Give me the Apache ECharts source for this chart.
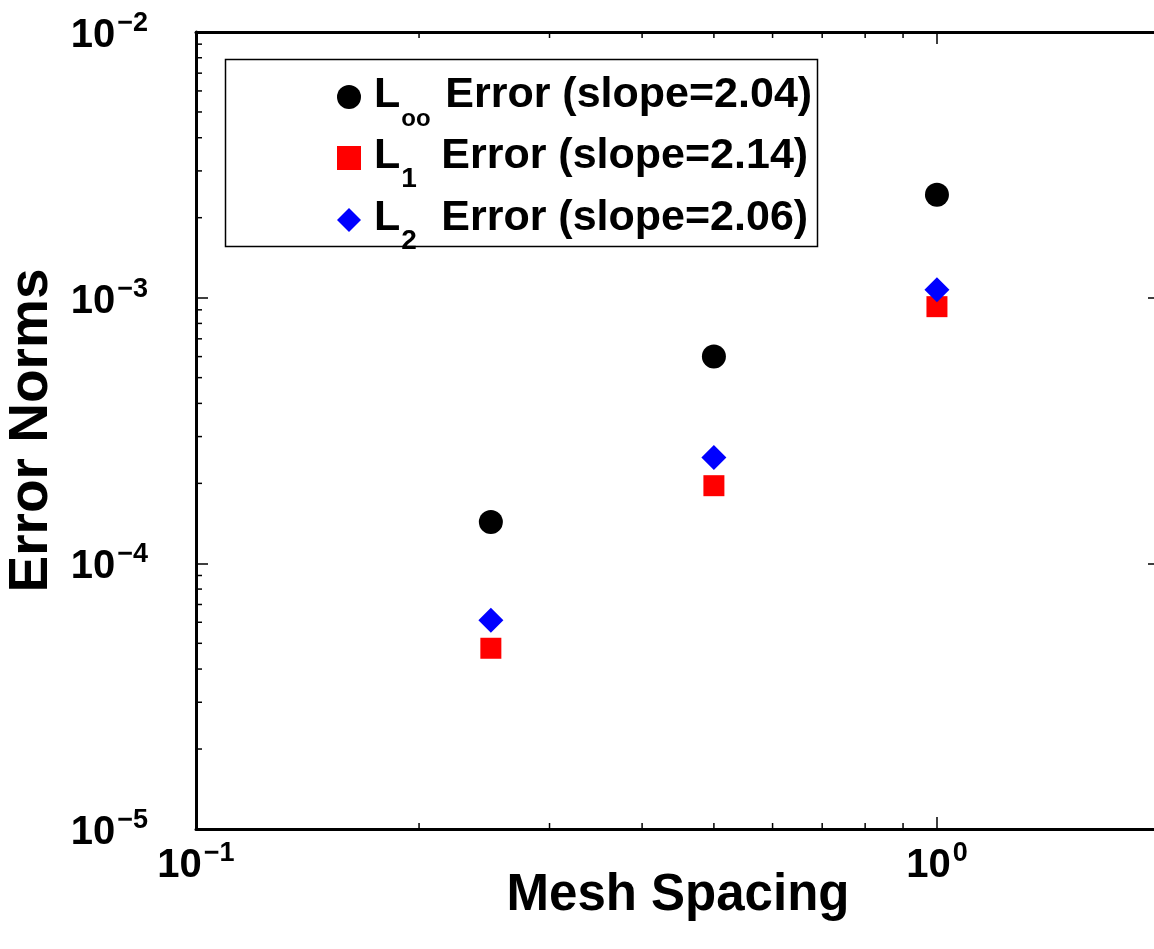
<!DOCTYPE html>
<html><head><meta charset="utf-8">
<script src="https://cdn.jsdelivr.net/npm/echarts@6/dist/echarts.min.js"></script>
<style>html,body{margin:0;padding:0;background:#fff}#c{width:1154px;height:949px}</style>
</head><body><div id="c"></div>
<script>
// ---- data ----
const meshSpacing = [0.25, 0.5, 1.0];
const linfError = [1.43e-4, 6.0e-4, 2.44e-3];
const l1Error = [4.79e-5, 1.96e-4, 9.25e-4];
const l2Error = [6.1e-5, 2.50e-4, 1.07e-3];
const normSubscripts = ['oo', '1', '2'];
const slopes = ['2.04', '2.14', '2.06'];
const seriesNames = ['L∞ Error (slope=2.04)', 'L1 Error (slope=2.14)', 'L2 Error (slope=2.06)'];
const xTickExponents = [-1, 0];
const yTickExponents = [-5, -4, -3, -2];
const xMinorTicks = [0.2, 0.3, 0.4, 0.5, 0.6, 0.7, 0.8, 0.9];
const yMinorTicks = [2e-5, 3e-5, 4e-5, 5e-5, 6e-5, 7e-5, 8e-5, 9e-5,
                     2e-4, 3e-4, 4e-4, 5e-4, 6e-4, 7e-4, 8e-4, 9e-4,
                     2e-3, 3e-3, 4e-3, 5e-3, 6e-3, 7e-3, 8e-3, 9e-3];
const xRange = [0.1, 2];
const yRange = [1e-5, 1e-2];

const FONT = 'Liberation Sans';
const chart = echarts.init(document.getElementById('c'), null, {renderer: 'canvas'});

function powLabel(exps) {
  return function (v) {
    const e = Math.log10(v);
    const r = Math.round(e);
    if (Math.abs(e - r) > 1e-6 || exps.indexOf(r) < 0) return '';
    const s = r < 0 ? '\u2212' + (-r) : String(r);
    return '{b|10}{sup|' + s + '}';
  };
}
const labelRich = {
  b: {fontFamily: FONT, fontWeight: 'bold', fontSize: 40, color: '#000', lineHeight: 44, verticalAlign: 'top', padding: [6, 0, 6, 0]},
  sup: {fontFamily: FONT, fontWeight: 'bold', fontSize: 27, color: '#000', lineHeight: 27, verticalAlign: 'top', padding: [0, 0, 0, 2]}
};
const lineStyle = {color: '#000', width: 3};
const tickStyle = {color: '#000', width: 1.5};

function minorTickSeries(axis, values) {
  return {
    type: 'custom', silent: true, z: 5, clip: false,
    data: values.map(v => axis === 'x' ? [v, 1e-4] : [0.5, v]),
    renderItem: function (params, api) {
      const cs = params.coordSys;
      const p = api.coord([api.value(0), api.value(1)]);
      const st = {stroke: '#000', lineWidth: 1.5};
      if (axis === 'x') {
        return {type: 'group', children: [
          {type: 'line', shape: {x1: p[0], y1: cs.y + cs.height, x2: p[0], y2: cs.y + cs.height - 6}, style: st},
          {type: 'line', shape: {x1: p[0], y1: cs.y, x2: p[0], y2: cs.y + 6}, style: st}
        ]};
      }
      return {type: 'group', children: [
        {type: 'line', shape: {x1: cs.x, y1: p[1], x2: cs.x + 6, y2: p[1]}, style: st},
        {type: 'line', shape: {x1: cs.x + cs.width, y1: p[1], x2: cs.x + cs.width - 6, y2: p[1]}, style: st}
      ]};
    }
  };
}

const textBase = {fontFamily: FONT, fontWeight: 'bold', color: '#000'};
const option = {
  backgroundColor: '#fff',
  animation: false,
  grid: {left: 196, top: 32, right: -6, bottom: 120, containLabel: false, outerBoundsMode: 'none'},
  xAxis: [{
    type: 'log', logBase: 10, min: xRange[0], max: xRange[1],
    position: 'bottom',
    name: 'Mesh Spacing', nameLocation: 'middle', nameGap: 41, nameMoveOverlap: false,
    nameTextStyle: Object.assign({fontSize: 51}, textBase),
    axisLine: {show: true, lineStyle: lineStyle},
    axisTick: {show: true, inside: true, length: 12, lineStyle: tickStyle},
    axisLabel: {formatter: powLabel(xTickExponents), margin: 11, rich: labelRich, showMinLabel: true, showMaxLabel: true},
    splitLine: {show: false}, minorTick: {show: false}
  }, {
    type: 'log', logBase: 10, min: xRange[0], max: xRange[1],
    position: 'top',
    axisLine: {show: true, lineStyle: lineStyle},
    axisTick: {show: true, inside: true, length: 12, lineStyle: tickStyle},
    axisLabel: {show: false}, splitLine: {show: false}
  }],
  yAxis: [{
    type: 'log', logBase: 10, min: yRange[0], max: yRange[1],
    position: 'left',
    name: 'Error Norms', nameLocation: 'middle', nameGap: 137, nameMoveOverlap: false,
    nameTextStyle: Object.assign({fontSize: 55}, textBase),
    axisLine: {show: true, lineStyle: lineStyle},
    axisTick: {show: true, inside: true, length: 12, lineStyle: tickStyle},
    axisLabel: {formatter: powLabel(yTickExponents), margin: 48, rich: labelRich, showMinLabel: true, showMaxLabel: true},
    splitLine: {show: false}, minorTick: {show: false}
  }, {
    type: 'log', logBase: 10, min: yRange[0], max: yRange[1],
    position: 'right',
    axisLine: {show: true, lineStyle: lineStyle},
    axisTick: {show: true, inside: true, length: 12, lineStyle: tickStyle},
    axisLabel: {show: false}, splitLine: {show: false}
  }],
  legend: {
    orient: 'vertical', left: 337, top: 74, padding: 0,
    itemWidth: 24, itemHeight: 24, itemGap: 4,
    data: [
      {name: seriesNames[0], icon: 'circle', itemStyle: {opacity: 1}},
      {name: seriesNames[1], icon: 'rect', itemStyle: {opacity: 1}},
      {name: seriesNames[2], icon: 'diamond', itemStyle: {opacity: 1}}
    ],
    formatter: function (name) {
      const i = seriesNames.indexOf(name);
      const st = normSubscripts[i].length > 1 ? 'so' : 's';
      return '{l|L}{' + st + '|' + normSubscripts[i] + '}{t|Error (slope=' + slopes[i] + ')}';
    },
    textStyle: {
      rich: {
        l: Object.assign({fontSize: 43, lineHeight: 46, verticalAlign: 'top', padding: [0, 0, 0, 8]}, textBase),
        s: Object.assign({fontSize: 28, lineHeight: 20, verticalAlign: 'top', width: 40, padding: [30, 0, 0, 1]}, textBase),
        so: Object.assign({fontSize: 24, lineHeight: 20, verticalAlign: 'top', width: 44, padding: [33, 0, 0, 1]}, textBase),
        t: Object.assign({fontSize: 43, lineHeight: 46, verticalAlign: 'top'}, textBase)
      }
    }
  },
  graphic: [{
    type: 'rect', left: 223, top: 57, z: 10,
    shape: {width: 592, height: 187},
    style: {fill: 'none', stroke: '#000', lineWidth: 1.5}
  }],
  series: [
    {name: seriesNames[0], type: 'scatter', symbol: 'circle', symbolSize: 24,
     itemStyle: {color: '#000000', opacity: 1}, data: meshSpacing.map((x, i) => [x, linfError[i]])},
    {name: seriesNames[1], type: 'scatter', symbol: 'rect', symbolSize: 21,
     itemStyle: {color: '#ff0000', opacity: 1}, data: meshSpacing.map((x, i) => [x, l1Error[i]])},
    {name: seriesNames[2], type: 'scatter', symbol: 'diamond', symbolSize: 25,
     itemStyle: {color: '#0000ff', opacity: 1}, data: meshSpacing.map((x, i) => [x, l2Error[i]])},
    minorTickSeries('x', xMinorTicks),
    minorTickSeries('y', yMinorTicks)
  ]
};
chart.setOption(option);
</script>
</body></html>
